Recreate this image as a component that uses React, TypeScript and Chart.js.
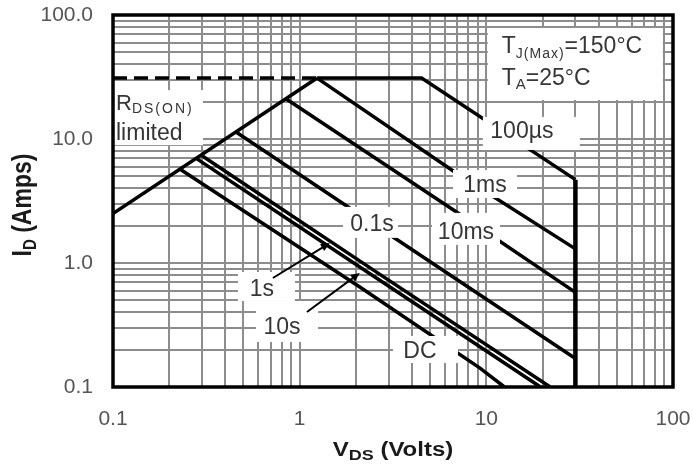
import React, { useEffect, useRef } from "react";
import { Chart, registerables } from "chart.js";

Chart.register(...registerables);

// ---------- axes ----------
const X_MIN = 0.1;
const X_MAX = 100;
const Y_MIN = 0.1;
const Y_MAX = 100;
const xTickValues = [0.1, 1, 10, 100];
const xTickLabels = ["0.1", "1", "10", "100"];
const yTickValues = [0.1, 1, 10, 100];
const yTickLabels = ["0.1", "1.0", "10.0", "100.0"];

// ---------- SOA boundary curves (V_DS in volts, I_D in amps) ----------
const rdsLimitV = [0.1, 1.24];
const rdsLimitI = [2.5, 31];
const idLimitV = [0.1, 1.24];
const idLimitI = [31, 31];
const us100V = [1.24, 4.5, 30];
const us100I = [31, 31, 4.7];
const vdsMaxV = [30, 30];
const vdsMaxI = [4.7, 0.1];
const ms1V = [1.24, 6.8, 30];
const ms1I = [31, 5.4, 1.3];
const ms10V = [0.844, 7.05, 30];
const ms10I = [21.1, 2.53, 0.58];
const s01V = [0.456, 3.05, 30];
const s01I = [11.4, 1.68, 0.17];
const s1V = [0.297, 2.69, 22];
const s1I = [7.4, 0.81, 0.1];
const s10V = [0.279, 2.6, 19.5];
const s10I = [6.98, 0.75, 0.1];
const dcV = [0.229, 2.1, 9.25, 12.5];
const dcI = [5.7, 0.64, 0.142, 0.1];

// ---------- annotations (anchors in data coordinates) ----------
const curveLabels = ["100µs", "1ms", "10ms", "0.1s", "1s", "10s", "DC"];
const curveLabelV = [15.5, 9.84, 7.78, 2.44, 0.628, 0.804, 4.41];
const curveLabelI = [11.4, 4.18, 1.75, 2.03, 0.606, 0.299, 0.1915];
const arrowFromV = [0.719, 1.094];
const arrowFromI = [0.757, 0.403];
const arrowToV = [1.45, 2.1];
const arrowToI = [1.45, 0.831];
const rdsNoteV = 0.1;
const rdsNoteI = 17.1;
const condNoteV = 12.1;
const condNoteI = 49.4;

// ---------- styles ----------
const FONT = "'Liberation Sans', Arial, Helvetica, sans-serif";
const GRID = "#8d8d8d";
const TICK = "#555555";
const NOTE = "#363636";
// white box behind each curve label: [dx, dy, width, height] in px
const LABEL_BOX = [
  [9.5, 1.5, 97, 33],
  [0, -2, 64, 28],
  [0, -4, 68, 32],
  [-1.5, -2.5, 55, 31],
  [4.5, -3.5, 57, 29],
  [5, -6.5, 62, 41],
  [5.5, -2.5, 65, 27],
];

function logGridValues(min: number, max: number): number[] {
  const out: number[] = [];
  for (let e = Math.floor(Math.log10(min)); e <= Math.ceil(Math.log10(max)); e++) {
    for (let m = 1; m <= 9; m++) {
      const v = parseFloat((m * Math.pow(10, e)).toPrecision(6));
      if (v >= min * 0.9999 && v <= max * 1.0001) out.push(v);
    }
  }
  return out;
}

function labelFor(v: number, values: number[], labels: string[]): string {
  const i = values.findIndex((t) => Math.abs(t - v) / t < 1e-6);
  return i >= 0 ? labels[i] : "";
}

const pts = (xs: number[], ys: number[]) => xs.map((x, i) => ({ x, y: ys[i] }));
const curve = (xs: number[], ys: number[], extra: any = {}) => ({
  data: pts(xs, ys),
  borderColor: "#000",
  backgroundColor: "#000",
  borderWidth: 3.5,
  pointRadius: 0,
  fill: false,
  tension: 0,
  ...extra,
});

type Part = { text: string; size: number; bold?: boolean; dy?: number; ls?: string };

function drawRich(ctx: CanvasRenderingContext2D, x: number, y: number, parts: Part[], align: "left" | "center" = "left") {
  const setFont = (p: Part) => {
    ctx.font = `${p.bold ? "bold " : ""}${p.size}px ${FONT}`;
    (ctx as any).letterSpacing = p.ls || "0px";
  };
  const widths = parts.map((p) => {
    setFont(p);
    return ctx.measureText(p.text).width;
  });
  const total = widths.reduce((a, b) => a + b, 0);
  let cx = align === "center" ? x - total / 2 : x;
  ctx.textAlign = "left";
  ctx.textBaseline = "alphabetic";
  parts.forEach((p, i) => {
    setFont(p);
    ctx.fillText(p.text, cx, y + (p.dy || 0));
    cx += widths[i];
  });
  (ctx as any).letterSpacing = "0px";
}

const annotationPlugin = {
  id: "soaAnnotations",
  afterDatasetsDraw(chart: any) {
    const { ctx, chartArea: a, scales } = chart;
    const px = (v: number) => scales.x.getPixelForValue(v);
    const py = (v: number) => scales.y.getPixelForValue(v);
    ctx.save();

    // white label boxes (interrupt grid and curves)
    ctx.fillStyle = "#fff";
    curveLabels.forEach((_, i) => {
      const [dx, dy, w, h] = LABEL_BOX[i];
      const cx = px(curveLabelV[i]) + dx;
      const cy = py(curveLabelI[i]) + dy;
      ctx.fillRect(cx - w / 2, cy - h / 2, w, h);
    });
    const rx = px(rdsNoteV);
    const ry = py(rdsNoteI);
    ctx.fillRect(rx, ry - 20, 90, 55);
    const tx = px(condNoteV);
    const ty = py(condNoteI);
    ctx.fillRect(tx - 14, ty - 25, 175, 72);

    // curve labels
    ctx.fillStyle = NOTE;
    ctx.font = `23px ${FONT}`;
    ctx.textAlign = "center";
    ctx.textBaseline = "middle";
    curveLabels.forEach((t, i) => {
      ctx.fillText(t, px(curveLabelV[i]), py(curveLabelI[i]));
    });

    // R_DS(ON) limited
    drawRich(ctx, rx + 3, ry, [
      { text: "R", size: 22 },
      { text: "DS(ON)", size: 14, dy: 3, ls: "2px" },
    ]);
    drawRich(ctx, rx + 3, ry + 30, [{ text: "limited", size: 23 }]);

    // conditions
    drawRich(ctx, tx, ty, [
      { text: "T", size: 23 },
      { text: "J(Max)", size: 14, dy: 5, ls: "1px" },
      { text: "=150°C", size: 23 },
    ]);
    drawRich(ctx, tx, ty + 32, [
      { text: "T", size: 23 },
      { text: "A", size: 15, dy: 4 },
      { text: "=25°C", size: 23 },
    ]);

    // arrows from "1s" / "10s" labels
    ctx.strokeStyle = "#000";
    ctx.fillStyle = "#000";
    arrowFromV.forEach((_, i) => {
      const x1 = px(arrowFromV[i]);
      const y1 = py(arrowFromI[i]);
      const x2 = px(arrowToV[i]);
      const y2 = py(arrowToI[i]);
      const ang = Math.atan2(y2 - y1, x2 - x1);
      const L = 9;
      const W = 4;
      const c = Math.cos(ang);
      const s = Math.sin(ang);
      ctx.lineWidth = 2;
      ctx.beginPath();
      ctx.moveTo(x1, y1);
      ctx.lineTo(x2 - L * c * 0.6, y2 - L * s * 0.6);
      ctx.stroke();
      ctx.beginPath();
      ctx.moveTo(x2, y2);
      ctx.lineTo(x2 - L * c + W * s, y2 - L * s - W * c);
      ctx.lineTo(x2 - L * c - W * s, y2 - L * s + W * c);
      ctx.closePath();
      ctx.fill();
    });

    // plot frame
    ctx.strokeStyle = "#000";
    ctx.lineWidth = 3.5;
    ctx.strokeRect(a.left, a.top, a.right - a.left, a.bottom - a.top);
    ctx.restore();
  },
  afterDraw(chart: any) {
    const { ctx, chartArea: a } = chart;
    ctx.save();
    ctx.fillStyle = "#1a1a1a";
    // x title
    ctx.save();
    ctx.translate((a.left + a.right) / 2, a.bottom + 69);
    ctx.scale(1.2, 1);
    drawRich(
      ctx,
      0,
      0,
      [
        { text: "V", size: 20, bold: true },
        { text: "DS", size: 15, bold: true, dy: 4 },
        { text: " (Volts)", size: 20, bold: true },
      ],
      "center"
    );
    ctx.restore();
    // y title
    ctx.save();
    ctx.translate(31, (a.top + a.bottom) / 2 + 4);
    ctx.rotate(-Math.PI / 2);
    ctx.scale(1, 1.2);
    drawRich(
      ctx,
      0,
      0,
      [
        { text: "I", size: 23, bold: true },
        { text: "D", size: 15, bold: true, dy: 4 },
        { text: " (Amps)", size: 23, bold: true },
      ],
      "center"
    );
    ctx.restore();
    ctx.restore();
  },
};

export default function App() {
  const ref = useRef<HTMLCanvasElement | null>(null);

  useEffect(() => {
    if (!ref.current) return;
    const datasets = [
      curve(rdsLimitV, rdsLimitI),
      curve(idLimitV, idLimitI, { borderDash: [14, 7] }),
      curve(us100V, us100I),
      curve(vdsMaxV, vdsMaxI, { borderWidth: 4.5 }),
      curve(ms1V, ms1I),
      curve(ms10V, ms10I),
      curve(s01V, s01I),
      curve(s1V, s1I),
      curve(s10V, s10I),
      curve(dcV, dcI),
    ];
    const tickFont = { family: FONT, size: 21 };
    const chart = new Chart(ref.current, {
      type: "line",
      data: { datasets } as any,
      options: {
        responsive: false,
        animation: false,
        devicePixelRatio: 1,
        events: [],
        layout: { padding: { left: 0, right: 20, top: 15, bottom: 0 } },
        plugins: { legend: { display: false }, tooltip: { enabled: false } },
        scales: {
          x: {
            type: "logarithmic",
            position: "bottom",
            min: X_MIN,
            max: X_MAX,
            afterBuildTicks: (s: any) => {
              s.ticks = logGridValues(X_MIN, X_MAX).map((v) => ({ value: v }));
            },
            afterFit: (s: any) => {
              s.height = 81;
              s.paddingLeft = 0;
              s.paddingRight = 0;
              s.paddingTop = 0;
              s.paddingBottom = 0;
            },
            grid: { color: GRID, lineWidth: 2, drawTicks: false },
            border: { display: false },
            ticks: {
              autoSkip: false,
              maxRotation: 0,
              padding: 20,
              color: TICK,
              font: tickFont,
              callback: (v: any) => labelFor(Number(v), xTickValues, xTickLabels),
            },
          },
          y: {
            type: "logarithmic",
            position: "left",
            min: Y_MIN,
            max: Y_MAX,
            afterBuildTicks: (s: any) => {
              s.ticks = logGridValues(Y_MIN, Y_MAX).map((v) => ({ value: v }));
            },
            afterFit: (s: any) => {
              s.width = 113;
              s.paddingLeft = 0;
              s.paddingRight = 0;
              s.paddingTop = 0;
              s.paddingBottom = 0;
            },
            grid: { color: GRID, lineWidth: 2, drawTicks: false },
            border: { display: false },
            ticks: {
              autoSkip: false,
              padding: 20,
              color: TICK,
              font: tickFont,
              callback: (v: any) => labelFor(Number(v), yTickValues, yTickLabels),
            },
          },
        },
      } as any,
      plugins: [annotationPlugin],
    });
    return () => chart.destroy();
  }, []);

  return (
    <div style={{ position: "absolute", left: 0, top: 0, width: 693, height: 468, background: "#fff" }}>
      <canvas ref={ref} width={693} height={468} style={{ display: "block" }} />
    </div>
  );
}
